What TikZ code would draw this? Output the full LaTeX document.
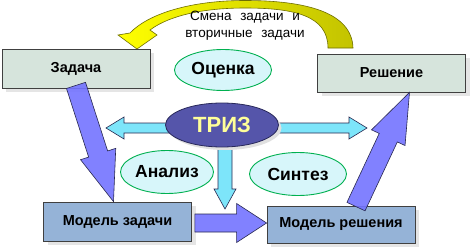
\documentclass[tikz,border=0pt]{standalone}
\usepackage{fontspec}
\setmainfont{Liberation Sans}
\usepackage{tikz}
\usetikzlibrary{positioning,calc,shapes.geometric,shadows,backgrounds}
\definecolor{boxtop}{RGB}{214,228,220}
\definecolor{boxbot}{RGB}{149,179,215}
\definecolor{boxedge}{RGB}{64,64,64}
\definecolor{ellfill}{RGB}{215,246,250}
\definecolor{ellline}{RGB}{0,176,80}
\definecolor{trizfill}{RGB}{85,85,170}
\definecolor{trizedge}{RGB}{40,40,90}
\definecolor{triztext}{RGB}{255,255,153}
\definecolor{cyanfill}{RGB}{125,229,250}
\definecolor{bluefill}{RGB}{115,115,255}
\definecolor{arredge}{RGB}{40,40,80}
\definecolor{yelA}{RGB}{255,255,0}
\definecolor{yelB}{RGB}{195,195,0}
\definecolor{yeledge}{RGB}{110,110,0}
\tikzset{
  % --- stages of the work ----------------------------------------------------
  stage/.style={rectangle,draw=boxedge,line width=0.8pt,fill=boxtop,
                minimum width=148pt,minimum height=39pt,inner sep=0pt,
                font=\fontsize{14.5}{16}\selectfont\bfseries,
                drop shadow={shadow xshift=4pt,shadow yshift=-4pt,
                             fill=black!10,opacity=1}},
  model/.style={stage,fill=boxbot},
  % --- operations --------------------------------------------------------------
  oper/.style={ellipse,draw=ellline,line width=0.9pt,fill=ellfill,inner sep=0pt,
               font=\fontsize{17.5}{20}\selectfont\bfseries},
  core/.style={ellipse,draw=trizedge,line width=0.8pt,fill=trizfill,
               text=triztext,inner sep=0pt,minimum width=113pt,minimum height=44pt,
               font=\fontsize{22}{24}\selectfont\bfseries,
               drop shadow={shadow xshift=3pt,shadow yshift=-3pt,
                            fill=black!12,opacity=1}},
  % --- block arrows: half shaft, half head, head length ------------------------
  blk/.style n args={3}{to path={
      let \p1=($(\tikztotarget)!#3!(\tikztostart)$) in
      ($(\tikztostart)!#1!90:(\tikztotarget)$)
      -- ($(\p1)!#1!90:(\tikztotarget)$) -- ($(\p1)!#2!90:(\tikztotarget)$)
      -- (\tikztotarget)
      -- ($(\p1)!#2!-90:(\tikztotarget)$) -- ($(\p1)!#1!-90:(\tikztotarget)$)
      -- ($(\tikztostart)!#1!-90:(\tikztotarget)$) -- cycle}},
  dbl/.style n args={3}{to path={
      let \p1=($(\tikztostart)!#3!(\tikztotarget)$),
          \p2=($(\tikztotarget)!#3!(\tikztostart)$) in
      (\tikztostart)
      -- ($(\p1)!#2!90:(\tikztotarget)$) -- ($(\p1)!#1!90:(\tikztotarget)$)
      -- ($(\p2)!#1!-90:(\tikztostart)$) -- ($(\p2)!#2!-90:(\tikztostart)$)
      -- (\tikztotarget)
      -- ($(\p2)!#2!90:(\tikztostart)$) -- ($(\p2)!#1!90:(\tikztostart)$)
      -- ($(\p1)!#1!-90:(\tikztotarget)$) -- ($(\p1)!#2!-90:(\tikztotarget)$)
      -- cycle}},
  cyanarr/.style={draw=arredge,fill=cyanfill,line width=0.6pt},
  bluearr/.style={draw=arredge,fill=bluefill,fill opacity=0.9,line width=0.6pt},
  yellarr/.style={draw=yeledge,line width=0.6pt,left color=yelA,right color=yelB},
  note/.style={align=center,font=\fontsize{13.5}{17}\selectfont},
}
\begin{document}
\begin{tikzpicture}[x=1pt,y=-1pt]
  \useasboundingbox (0,0) rectangle (472,252);

  \node[stage] (zad) at (76,68.5) {Задача};
  \node[stage,minimum height=38pt] (resh) at (391.5,73) {Решение};
  \node[model] (mzad) at (117.5,221.5) {Модель задачи};
  \node[model,minimum height=37pt] (mresh) at (341,224.5) {Модель решения};

  \node[oper,minimum width=97pt,minimum height=41pt] (otsen) at (223,70) {Оценка};
  \node[core] (triz) at (222,125) {ТРИЗ};
  \node[oper,minimum width=93pt,minimum height=43pt] (anal) at (167,172) {Анализ};
  \node[oper,minimum width=97pt,minimum height=43pt] (sint) at (298,174) {Синтез};

  \coordinate (dl) at (106,128);
  \coordinate (dr) at (367,128);
  \coordinate (vd) at (225,209);

  \begin{scope}[on background layer]
    \draw[cyanarr,dbl={5pt}{11pt}{18pt}] (dl) to (dr);
    \draw[cyanarr,blk={7pt}{11pt}{20pt}] ([xshift=3pt]triz.center) to (vd);
    \draw[yellarr] (353,48) .. controls (352,12) and (305,0.5) .. (245,0.5)
      .. controls (190,0.5) and (148,14) .. (130,33) -- (118,35) -- (137,49)
      -- (157,35) -- (150,30) .. controls (170,15) and (205,8) .. (245,8)
      .. controls (295,8) and (328,16) .. (328,48) -- cycle;
  \end{scope}

  \draw[bluearr,blk={10pt}{18.5pt}{50pt}] ([yshift=3pt]zad.south) to ([xshift=-4pt]mzad.north);
  \draw[bluearr,blk={10pt}{18.5pt}{50pt}] ([xshift=15pt,yshift=-1pt]mresh.north) to ([xshift=18pt]resh.south);
  \draw[bluearr,blk={9pt}{19.5pt}{30pt}] ([xshift=3pt,yshift=-1.5pt]mzad.east) to ([yshift=1.5pt]mresh.west);

  \node[note] (smena) at (245,25.5) {Смена\hspace{5pt} задачи\hspace{5pt} и\\вторичные\hspace{5pt} задачи};
\end{tikzpicture}
\end{document}
